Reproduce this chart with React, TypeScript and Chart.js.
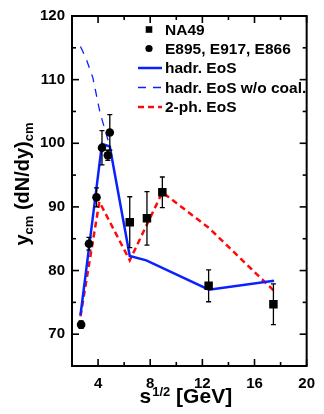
import { useEffect, useRef } from "react";
import { Chart, registerables } from "chart.js";
Chart.register(...registerables);

// NA49 (squares)
const na49X = [6.43, 7.75, 8.93, 12.48, 17.45];
const na49Y = [87.6, 88.2, 92.3, 77.6, 74.7];
const na49Err = [4.0, 4.2, 2.4, 2.5, 3.2];
// E895, E917, E866 (circles)
const agsX = [2.7, 3.3, 3.88, 4.3, 4.75, 4.9];
const agsY = [71.5, 84.2, 91.5, 99.3, 98.1, 101.7];
const agsErr = [0.6, 1.0, 1.5, 2.7, 0.8, 2.8];
// hadr. EoS
const hadrX = [2.65, 3.35, 4.3, 4.9, 6.43, 7.7, 12.5, 17.5];
const hadrY = [73.0, 84.3, 99.9, 99.5, 82.3, 81.6, 77.0, 78.4];
// hadr. EoS w/o coal.
const wocX = [2.65, 3.1, 3.6, 4.15, 4.95];
const wocY = [115.2, 113.2, 110.3, 104.8, 99.2];
// 2-ph. EoS
const twoX = [2.65, 4.1, 6.43, 8.93, 12.5, 17.5];
const twoY = [72.8, 90.8, 81.6, 92.3, 86.7, 76.8];

const xTicks = [4, 8, 12, 16, 20];
const xMinor = [6, 10, 14, 18];
const yTicks = [70, 80, 90, 100, 110, 120];
const yMinor = [75, 85, 95, 105, 115];

const labels = ["NA49", "E895, E917, E866", "hadr. EoS", "hadr. EoS w/o coal.", "2-ph. EoS"];

const FONT = "'Liberation Sans', Arial, sans-serif";
const BLUE = "#0a22ff";
const RED = "#ff0a0a";

const pts = (xs: number[], ys: number[]) => xs.map((x, i) => ({ x, y: ys[i] }));

const decorPlugin = {
  id: "decor",
  afterDatasetsDraw(chart: any) {
    const ctx = chart.ctx;
    const xs = chart.scales.x;
    const ys = chart.scales.y;
    const { left, right, top, bottom } = chart.chartArea;
    ctx.save();
    // error bars
    const errSets: [number[], number[], number[]][] = [
      [na49X, na49Y, na49Err],
      [agsX, agsY, agsErr],
    ];
    ctx.strokeStyle = "#000";
    ctx.lineWidth = 1.3;
    for (const [ex, ey, ee] of errSets) {
      ex.forEach((x, i) => {
        const px = xs.getPixelForValue(x);
        const y1 = ys.getPixelForValue(ey[i] + ee[i]);
        const y2 = ys.getPixelForValue(ey[i] - ee[i]);
        ctx.beginPath();
        ctx.moveTo(px, y1);
        ctx.lineTo(px, y2);
        ctx.moveTo(px - 2.5, y1);
        ctx.lineTo(px + 2.5, y1);
        ctx.moveTo(px - 2.5, y2);
        ctx.lineTo(px + 2.5, y2);
        ctx.stroke();
      });
    }
    // frame
    ctx.lineWidth = 2;
    ctx.strokeRect(left, top, right - left, bottom - top);
    // ticks
    ctx.lineWidth = 1.6;
    const tick = (x1: number, y1: number, x2: number, y2: number) => {
      ctx.beginPath();
      ctx.moveTo(x1, y1);
      ctx.lineTo(x2, y2);
      ctx.stroke();
    };
    xTicks.forEach((v) => {
      const p = xs.getPixelForValue(v);
      tick(p, bottom, p, bottom - 7);
      tick(p, top, p, top + 7);
    });
    xMinor.forEach((v) => {
      const p = xs.getPixelForValue(v);
      tick(p, bottom, p, bottom - 4);
      tick(p, top, p, top + 4);
    });
    yTicks.forEach((v) => {
      const p = ys.getPixelForValue(v);
      tick(left, p, left + 7, p);
      tick(right, p, right - 7, p);
    });
    yMinor.forEach((v) => {
      const p = ys.getPixelForValue(v);
      tick(left, p, left + 4, p);
      tick(right, p, right - 4, p);
    });
    ctx.restore();
  },
  afterDraw(chart: any) {
    const ctx = chart.ctx;
    const { left, right } = chart.chartArea;
    ctx.save();
    ctx.fillStyle = "#000";
    // legend
    const lx = 165;
    const rows = [29.5, 48.5, 68, 87.5, 107];
    ctx.font = `bold 15.5px ${FONT}`;
    ctx.textBaseline = "middle";
    ctx.textAlign = "left";
    chart.data.datasets.forEach((ds: any, i: number) => {
      const y = rows[i];
      if (ds.showLine) {
        ctx.save();
        ctx.strokeStyle = ds.borderColor;
        ctx.lineWidth = ds.borderWidth;
        ctx.setLineDash(ds.borderDash || []);
        ctx.beginPath();
        ctx.moveTo(138, y);
        ctx.lineTo(162, y);
        ctx.stroke();
        ctx.restore();
      } else {
        ctx.beginPath();
        if (ds.pointStyle === "rect") {
          ctx.rect(149 - 3.3, y - 3.3, 6.6, 6.6);
        } else {
          ctx.arc(149, y, 3.6, 0, Math.PI * 2);
        }
        ctx.fill();
      }
      ctx.fillText(ds.label, lx, y + 1);
    });

    // x title: s^{1/2} [GeV]
    const cx = (left + right) / 2;
    const base = 403;
    const big = `bold 21px ${FONT}`;
    const small = `bold 13px ${FONT}`;
    ctx.textBaseline = "alphabetic";
    ctx.font = big;
    const wS = ctx.measureText("s").width;
    const wG = ctx.measureText(" [GeV]").width;
    ctx.font = small;
    const wSup = ctx.measureText("1/2").width;
    const x0 = cx - (wS + wSup + wG) / 2 - 4;
    ctx.font = big;
    ctx.fillText("s", x0, base);
    ctx.font = small;
    ctx.fillText("1/2", x0 + wS + 1, base - 7.5);
    ctx.font = big;
    ctx.fillText(" [GeV]", x0 + wS + wSup + 1, base);

    // y title: y_cm (dN/dy)_cm rotated
    const yBig = `bold 20px ${FONT}`;
    ctx.save();
    ctx.translate(29, 184);
    ctx.rotate(-Math.PI / 2);
    const parts: [string, boolean][] = [
      ["y", false],
      ["cm", true],
      [" (dN/dy)", false],
      ["cm", true],
    ];
    let total = 0;
    for (const [t, sub] of parts) {
      ctx.font = sub ? small : yBig;
      total += ctx.measureText(t).width;
    }
    let px = -total / 2;
    for (const [t, sub] of parts) {
      ctx.font = sub ? small : yBig;
      ctx.fillText(t, px, sub ? 4 : 0);
      px += ctx.measureText(t).width;
    }
    ctx.restore();
    ctx.restore();
  },
};

export default function App() {
  const ref = useRef<HTMLCanvasElement | null>(null);
  useEffect(() => {
    document.body.style.margin = "0";
    const canvas = ref.current!;
    const chart = new Chart(canvas, {
      type: "scatter",
      data: {
        datasets: [
          {
            label: labels[0],
            data: pts(na49X, na49Y),
            pointStyle: "rect",
            pointRadius: 6,
            backgroundColor: "#000",
            borderColor: "#000",
            borderWidth: 0,
            showLine: false,
          },
          {
            label: labels[1],
            data: pts(agsX, agsY),
            pointStyle: "circle",
            pointRadius: 4.3,
            backgroundColor: "#000",
            borderColor: "#000",
            borderWidth: 0,
            showLine: false,
          },
          {
            label: labels[2],
            data: pts(hadrX, hadrY),
            showLine: true,
            borderColor: BLUE,
            borderWidth: 2.5,
            pointRadius: 0,
            fill: false,
          },
          {
            label: labels[3],
            data: pts(wocX, wocY),
            showLine: true,
            borderColor: BLUE,
            borderWidth: 1.3,
            borderDash: [8, 7],
            pointRadius: 0,
            fill: false,
          },
          {
            label: labels[4],
            data: pts(twoX, twoY),
            showLine: true,
            borderColor: RED,
            borderWidth: 2.5,
            borderDash: [6, 4],
            pointRadius: 0,
            fill: false,
          },
        ],
      },
      options: {
        animation: false,
        responsive: false,
        devicePixelRatio: 1,
        layout: { padding: { top: 14, right: 10, left: 0, bottom: 0 } },
        plugins: { legend: { display: false }, tooltip: { enabled: false } },
        scales: {
          x: {
            type: "linear",
            min: 2,
            max: 20,
            grid: { display: false, drawTicks: false },
            border: { display: false },
            afterBuildTicks: (s: any) => {
              s.ticks = xTicks.map((v) => ({ value: v }));
            },
            afterFit: (s: any) => {
              s.height = 48;
            },
            ticks: {
              color: "#000",
              padding: 9,
              maxRotation: 0,
              font: { family: FONT, size: 15, weight: "bold" },
            },
          },
          y: {
            type: "linear",
            min: 65,
            max: 120,
            grid: { display: false, drawTicks: false },
            border: { display: false },
            afterBuildTicks: (s: any) => {
              s.ticks = yTicks.map((v) => ({ value: v }));
            },
            afterFit: (s: any) => {
              s.width = 72;
            },
            ticks: {
              color: "#000",
              padding: 7,
              font: { family: FONT, size: 15, weight: "bold" },
            },
          },
        },
      } as any,
      plugins: [decorPlugin],
    });
    return () => chart.destroy();
  }, []);
  return <canvas ref={ref} width={324} height={414} style={{ display: "block", width: 324, height: 414 }} />;
}
